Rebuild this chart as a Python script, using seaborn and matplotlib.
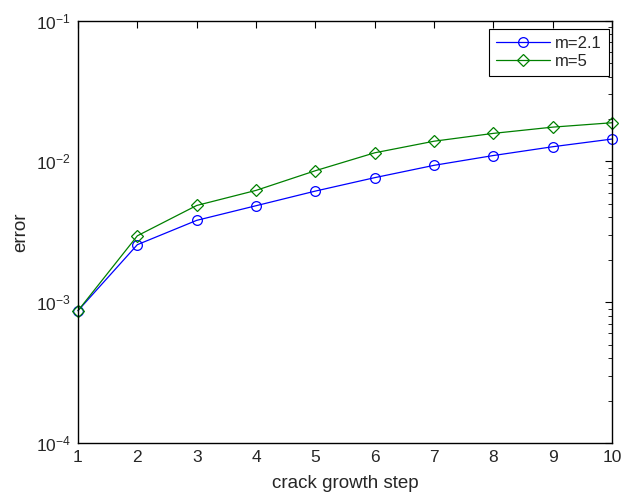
import pandas as pd
import seaborn as sns
import matplotlib.pyplot as plt

# data
steps = [1, 2, 3, 4, 5, 6, 7, 8, 9, 10]
err_m21 = [8.7e-4, 2.56e-3, 3.81e-3, 4.84e-3, 6.15e-3, 7.66e-3, 9.37e-3, 1.10e-2, 1.27e-2, 1.44e-2]
err_m5 = [8.7e-4, 2.96e-3, 4.86e-3, 6.22e-3, 8.58e-3, 1.15e-2, 1.39e-2, 1.58e-2, 1.75e-2, 1.88e-2]
labels = ['m=2.1', 'm=5']

df = pd.DataFrame({
    'step': steps * 2,
    'error': err_m21 + err_m5,
    'serie': [labels[0]] * len(steps) + [labels[1]] * len(steps),
})

sns.set_style('white')
plt.rcParams['font.family'] = ['Liberation Sans', 'DejaVu Sans']
plt.rcParams['mathtext.fontset'] = 'custom'
plt.rcParams['mathtext.rm'] = 'Liberation Sans'
plt.rcParams['mathtext.it'] = 'Liberation Sans'

fig = plt.figure(figsize=(6.24, 4.97), dpi=100)
ax = fig.add_axes([0.125, 0.1087, 0.856, 0.850])

styles = {labels[0]: ('#0000ff', 'o', 7), labels[1]: ('#008000', 'D', 6.5)}
for lab in labels:
    col, mk, ms = styles[lab]
    sns.lineplot(data=df[df['serie'] == lab], x='step', y='error', color=col,
                 marker=mk, markersize=ms, markerfacecolor='none', markeredgecolor=col,
                 markeredgewidth=0.9, linewidth=0.9, label=lab, ax=ax, clip_on=False)

ax.set_yscale('log')
ax.set_ylim(1e-4, 1e-1)
ax.set_xlim(1, 10)
ax.set_xticks(steps)
ax.set_xlabel('crack growth step', fontsize=13.5, labelpad=7)
ax.set_ylabel('error', fontsize=13.5, labelpad=5)
ax.tick_params(which='both', direction='in', top=True, right=True, labelsize=12.5, color='black')
ax.tick_params(which='major', length=5)
ax.tick_params(which='minor', length=3)
ax.tick_params(axis='x', pad=5)
ax.tick_params(axis='y', pad=5)
for s in ax.spines.values():
    s.set_color('black')
    s.set_linewidth(1.0)

leg = ax.legend(loc='upper right', bbox_to_anchor=(0.9944, 0.980), borderaxespad=0,
                fontsize=12, fancybox=False, edgecolor='black', framealpha=1,
                handlelength=3.2, handletextpad=0.35, labelspacing=0.2, borderpad=0.42)
leg.get_frame().set_linewidth(0.8)

fig.savefig('out.png', dpi=100)
